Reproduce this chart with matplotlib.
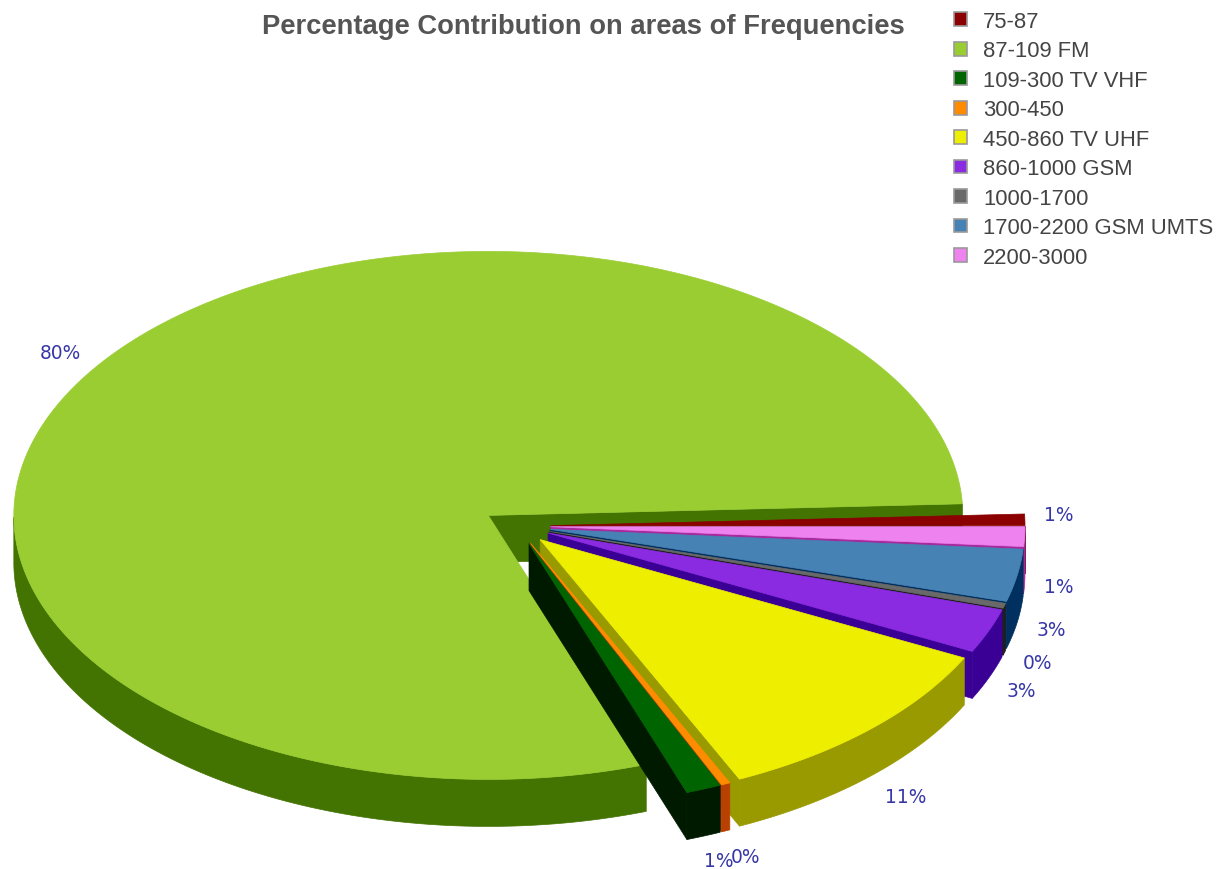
import numpy as np
import matplotlib
matplotlib.use("Agg")
import matplotlib.pyplot as plt
from matplotlib.patches import Polygon, Patch

# Frequency bands and their share of the total, in percent
bands = ["75-87", "87-109 FM", "109-300 TV VHF", "300-450", "450-860 TV UHF",
         "860-1000 GSM", "1000-1700", "1700-2200 GSM UMTS", "2200-3000"]
shares = [0.7, 79.7, 1.2, 0.3, 10.7, 2.7, 0.3, 3.2, 1.2]
top_colors = ["#8B0000", "#9ACD32", "#006400", "#FF8C00", "#EEEE00",
              "#8A2BE2", "#696969", "#4682B4", "#EE82EE"]
wall_colors = ["#5A0000", "#437300", "#001A00", "#B84000", "#999900",
               "#3A0096", "#1E1E1E", "#00305F", "#A8289E"]

# Pie geometry in figure pixels
CX, CY = 516.5, 527.0
RX, RY = 474.5, 264.0
DEPTH = 47.0
EXPLODE = 34.0

# Label anchors (centre of text); the order follows the bands
label_xy = [(1059, 516), (60, 354), (719, 862), (745, 858), (906, 798),
            (1021, 692), (1037, 664), (1051, 631), (1059, 588)]

fig = plt.figure(figsize=(12.21, 8.70), dpi=100)
ax = fig.add_axes([0, 0, 1, 1])
ax.set_xlim(0, 1221)
ax.set_ylim(870, 0)
ax.axis("off")


def arc(theta, ox, oy, dz=0.0):
    return np.column_stack([ox + RX * np.cos(theta),
                            oy - RY * np.sin(theta) + dz])


def draw_slice(start, end, top, wall, zorder):
    mid = 0.5 * (start + end)
    ox = CX + EXPLODE * np.cos(mid)
    oy = CY - EXPLODE * (RY / RX) * np.sin(mid)
    theta = np.linspace(start, end, max(int(np.degrees(end - start)) * 2, 12))

    # Cut face along the clockwise edge of the slice
    rim_pt = arc(np.array([start]), ox, oy)[0]
    face = [(ox, oy), tuple(rim_pt), (rim_pt[0], rim_pt[1] + DEPTH), (ox, oy + DEPTH)]
    ax.add_patch(Polygon(face, closed=True, fc=wall, ec=wall, lw=0.5, zorder=zorder))

    # Outer wall, only where the rim faces the viewer
    sin_t = np.sin(theta)
    front = theta[sin_t <= 0]
    if front.size > 1:
        upper = arc(front, ox, oy)
        lower = arc(front[::-1], ox, oy, DEPTH)
        ax.add_patch(Polygon(np.vstack([upper, lower]), closed=True,
                             fc=wall, ec=wall, lw=0.5, zorder=zorder))

    # Top surface
    outline = np.vstack([[(ox, oy)], arc(theta, ox, oy)])
    ax.add_patch(Polygon(outline, closed=True, fc=top, ec=top, lw=0.5, zorder=zorder + 0.5))


values = np.array(shares, dtype=float)
sweeps = 2 * np.pi * values / values.sum()
ends = np.cumsum(sweeps)
starts = ends - sweeps

# The large slice goes first; the rest stack clockwise from the right-hand side
paint_order = [1, 0, 8, 7, 6, 5, 4, 3, 2]
for z, i in enumerate(paint_order):
    s, e = starts[i], ends[i]
    if s > np.pi:  # keep the angles continuous for slices below the horizontal
        s, e = s - 2 * np.pi, e - 2 * np.pi
    draw_slice(s, e, top_colors[i], wall_colors[i], 2 + z)

for share, (lx, ly) in zip(shares, label_xy):
    ax.text(lx, ly, f"{share:.0f}%", ha="center", va="center", fontsize=13.4,
            color="#3636A8", family="DejaVu Sans", zorder=20)

fig.suptitle("Percentage Contribution on areas of Frequencies", x=583 / 1221,
             y=1 - 27.5 / 870, ha="center", va="center", fontsize=19.75,
             fontweight="bold", color="#555555", family="Liberation Sans")

handles = [Patch(fc=c, ec="#999999", lw=1.2) for c in top_colors]
ax.legend(handles, bands, loc="upper left", bbox_to_anchor=(954 / 1221, 1 - 12 / 870),
          bbox_transform=fig.transFigure, frameon=False, borderpad=0, borderaxespad=0,
          prop={"family": "Liberation Sans", "size": 15.85}, labelcolor="#444444",
          handlelength=0.58, handleheight=0.58, handletextpad=0.75, labelspacing=0.385)

fig.savefig("out.png", dpi=100, facecolor="white")
